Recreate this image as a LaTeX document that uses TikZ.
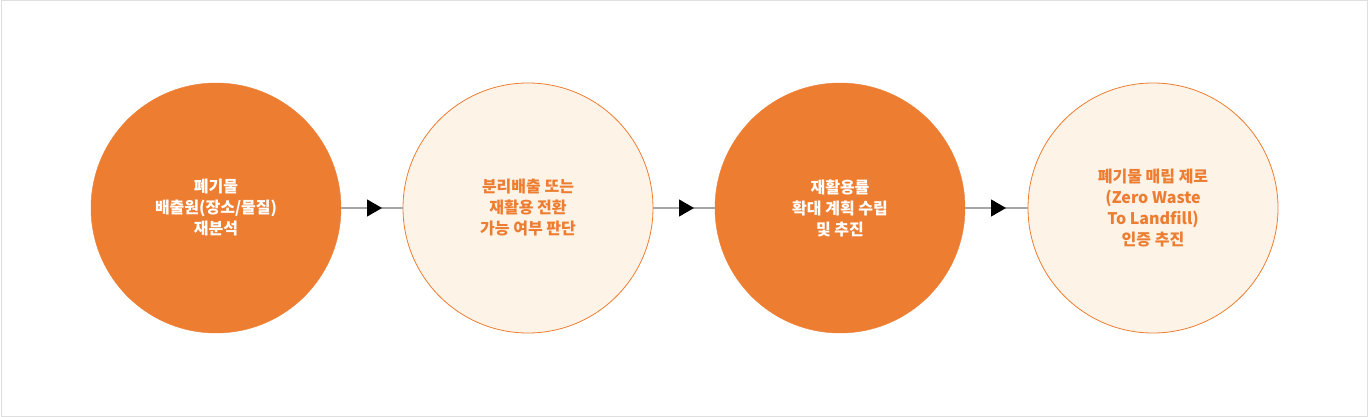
\documentclass[tikz,border=0pt]{standalone}
\usepackage{fontspec}
\usetikzlibrary{shapes.geometric}
\newfontfamily\kr{Noto Sans CJK KR}
\definecolor{org}{HTML}{ED7D31}
\definecolor{lite}{HTML}{FDF3E7}
\begin{document}
\begin{tikzpicture}[x=1pt,y=-1pt,
 full/.style={circle,minimum size=250pt,inner sep=0pt,fill=org,draw=org,text=white,align=center,font=\kr\bfseries\fontsize{16}{21}\selectfont},
 pale/.style={circle,minimum size=250pt,inner sep=0pt,fill=lite,draw=org,line width=0.8pt,text=org,align=center,font=\kr\bfseries\fontsize{16}{21}\selectfont},
 conn/.style={draw=gray!70,line width=1.2pt},
 tip/.style={fill=black,isosceles triangle,isosceles triangle apex angle=60,inner sep=0pt,minimum height=15pt,minimum width=16pt}]
\path[use as bounding box] (0,0) rectangle (1368,417);
\draw[gray!25,line width=1pt] (1,1) rectangle (1367,416);
\node[full] (a) at (216,208) {폐기물\\배출원(장소/물질)\\재분석};
\node[pale] (b) at (528,208) {분리배출 또는\\재활용 전환\\가능 여부 판단};
\node[full] (c) at (840,208) {재활용률\\확대 계획 수립\\및 추진};
\node[pale] (d) at (1153,208) {폐기물 매립 제로\\(Zero Waste\\To Landfill)\\인증 추진};
\foreach \p/\q/\m in {a/b/372,b/c/684,c/d/996}{
 \draw[conn] (\p) -- (\q);
 \node[tip] (t\p) at (\m,208) {};
}
\end{tikzpicture}
\end{document}
